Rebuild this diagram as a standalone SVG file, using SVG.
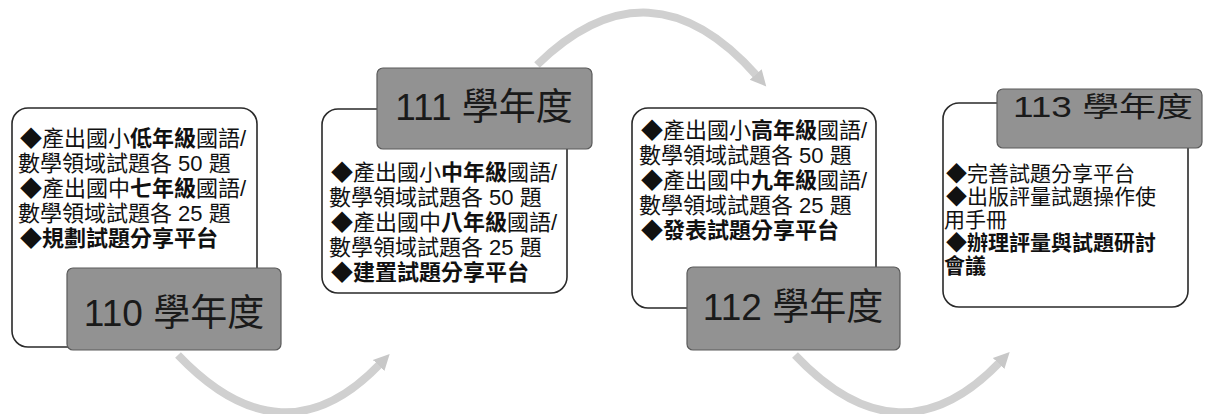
<svg xmlns="http://www.w3.org/2000/svg" width="1205" height="414" viewBox="0 0 1205 414">
<style>
.card{fill:#fff;stroke:#2a2a2a;stroke-width:1.6}
.lab{fill:#929292;stroke:#5a5a5a;stroke-width:1.2}
.t{font-family:"Liberation Sans","Noto Sans CJK TC","Noto Sans CJK SC",sans-serif;font-size:22px;fill:#111}
.t4{font-size:21px}
.b{font-weight:bold}
.lt{font-family:"Liberation Sans","Noto Sans CJK TC","Noto Sans CJK SC",sans-serif;font-size:37px;fill:#1a1a1a;text-anchor:middle}
.arr{fill:none;stroke:#d0d0d0;stroke-width:8}
</style>
<defs>
<marker id="ah" markerUnits="userSpaceOnUse" markerWidth="22" markerHeight="22" refX="2" refY="11" orient="auto">
<path d="M0,3 L16,11 L0,19 Z" fill="#c8c8c8"/>
</marker>
</defs>
<rect width="1205" height="414" fill="#fff"/>
<g id="connectors">
<path class="arr" d="M178,355 Q283,465 380,364" marker-end="url(#ah)"/>
<path class="arr" d="M537,65 Q650,-45 757,76" marker-end="url(#ah)"/>
<path class="arr" d="M795,355 Q900,466 1000,362" marker-end="url(#ah)"/>
</g>
<g id="node110">
<rect class="card" x="12" y="108" width="245" height="239" rx="16"/>
<text class="t" x="20" y="146">◆產出國小<tspan class="b">低年級</tspan>國語/</text>
<text class="t" x="18" y="171">數學領域試題各 50 題</text>
<text class="t" x="20" y="196">◆產出國中<tspan class="b">七年級</tspan>國語/</text>
<text class="t" x="18" y="221">數學領域試題各 25 題</text>
<text class="t b" x="20" y="246">◆規劃試題分享平台</text>
<rect class="lab" x="67" y="268" width="214" height="82" rx="6"/>
<text class="lt" x="174" y="326">110 學年度</text>
</g>
<g id="node111">
<rect class="card" x="322" y="109" width="245" height="184" rx="16"/>
<rect class="lab" x="377" y="68" width="215" height="81" rx="6"/>
<text class="lt" x="484" y="120">111 學年度</text>
<text class="t" x="331" y="180">◆產出國小<tspan class="b">中年級</tspan>國語/</text>
<text class="t" x="329" y="205">數學領域試題各 50 題</text>
<text class="t" x="331" y="230">◆產出國中<tspan class="b">八年級</tspan>國語/</text>
<text class="t" x="329" y="255">數學領域試題各 25 題</text>
<text class="t b" x="331" y="280">◆建置試題分享平台</text>
</g>
<g id="node112">
<rect class="card" x="632" y="108" width="244" height="200" rx="16"/>
<text class="t" x="641" y="138">◆產出國小<tspan class="b">高年級</tspan>國語/</text>
<text class="t" x="639" y="163">數學領域試題各 50 題</text>
<text class="t" x="641" y="188">◆產出國中<tspan class="b">九年級</tspan>國語/</text>
<text class="t" x="639" y="213">數學領域試題各 25 題</text>
<text class="t b" x="641" y="238">◆發表試題分享平台</text>
<rect class="lab" x="687" y="267" width="213" height="83" rx="6"/>
<text class="lt" x="793" y="320">112 學年度</text>
</g>
<g id="node113">
<rect class="card" x="943" y="103" width="245" height="204" rx="16"/>
<rect class="lab" x="997" y="89" width="205" height="59" rx="6"/>
<text class="lt" transform="translate(1103,117) scale(1,0.78)" x="0" y="0">113 學年度</text>
<text class="t t4" x="946" y="181">◆完善試題分享平台</text>
<text class="t t4" x="946" y="204">◆出版評量試題操作使</text>
<text class="t t4" x="944" y="227">用手冊</text>
<text class="t t4 b" x="946" y="250">◆辦理評量與試題研討</text>
<text class="t t4 b" x="944" y="273">會議</text>
</g>
</svg>
